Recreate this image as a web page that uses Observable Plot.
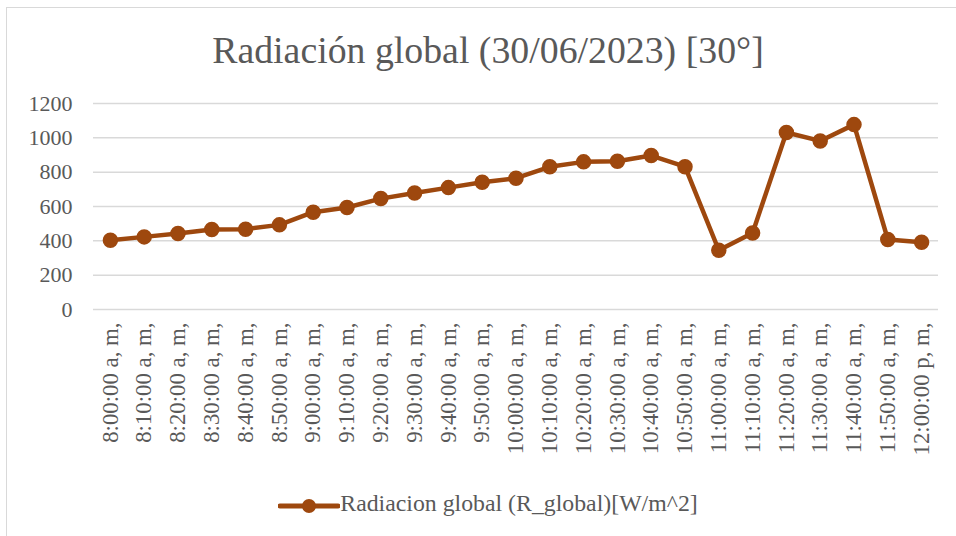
<!DOCTYPE html>
<html>
<head>
<meta charset="utf-8">
<script src="https://cdn.jsdelivr.net/npm/d3@7"></script>
<script src="https://cdn.jsdelivr.net/npm/@observablehq/plot@0.6"></script>
<style>
  html, body { margin: 0; padding: 0; background: #fff; overflow: hidden; }
  #wrap { position: relative; width: 956px; height: 536px; font-family: "Liberation Serif", "Times New Roman", serif; color: #595959; }
  #frame { position: absolute; left: 6px; top: 7px; width: 980px; height: 560px; border: 1.5px solid #d9d9d9; box-sizing: border-box; }
  #title { position: absolute; left: 0; width: 976px; top: 32px; text-align: center; font-size: 37.8px; line-height: 37px; white-space: nowrap; }
  #chart { position: absolute; left: 0; top: 85px; }
  #legend { position: absolute; left: 0; width: 976px; top: 490px; text-align: center; font-size: 23.8px; line-height: 26px; white-space: nowrap; }
  #legend svg { vertical-align: -3px; }
</style>
</head>
<body>
<div id="wrap">
  <div id="frame"></div>
  <div id="title">Radiación global (30/06/2023) [30°]</div>
  <div id="chart"></div>
  <div id="legend"></div>
</div>
<script>
const times = ["8:00:00 a, m,","8:10:00 a, m,","8:20:00 a, m,","8:30:00 a, m,","8:40:00 a, m,","8:50:00 a, m,",
  "9:00:00 a, m,","9:10:00 a, m,","9:20:00 a, m,","9:30:00 a, m,","9:40:00 a, m,","9:50:00 a, m,",
  "10:00:00 a, m,","10:10:00 a, m,","10:20:00 a, m,","10:30:00 a, m,","10:40:00 a, m,","10:50:00 a, m,",
  "11:00:00 a, m,","11:10:00 a, m,","11:20:00 a, m,","11:30:00 a, m,","11:40:00 a, m,","11:50:00 a, m,",
  "12:00:00 p, m,"];
const radiation = [404, 423, 443, 466, 468, 493, 567, 594, 646, 679, 710, 741, 765, 831, 860, 864, 897, 832,
  345, 446, 1031, 982, 1077, 408, 392];
const yTicks = [0, 200, 400, 600, 800, 1000, 1200];
const seriesName = "Radiacion global (R_global)[W/m^2]";
const lineColor = "#9E480E";

const data = times.map((t, i) => ({t, v: radiation[i]}));

const chart = Plot.plot({
  width: 956,
  height: 385,
  marginLeft: 93,
  marginRight: 18,
  marginTop: 18,
  marginBottom: 161,
  style: {fontFamily: '"Liberation Serif", "Times New Roman", serif', fontSize: "22px", color: "#595959", background: "transparent", overflow: "visible"},
  x: {type: "point", domain: times, padding: 0.5, round: false, label: null},
  y: {domain: [0, 1200], label: null},
  marks: [
    Plot.gridY(yTicks, {stroke: "#d9d9d9", strokeOpacity: 1, strokeWidth: 1.5}),
    Plot.axisY(yTicks, {tickSize: 0, tickPadding: 21, fontSize: 22, fill: "#595959", label: null, tickFormat: d => String(d)}),
    Plot.axisX(times, {tickSize: 0, tickRotate: -90, tickPadding: 13, fontSize: 22.8, fill: "#595959", label: null, textAnchor: "end", tickFormat: d => d}),
    Plot.line(data, {x: "t", y: "v", stroke: lineColor, strokeWidth: 4.5, strokeLinejoin: "round"}),
    Plot.dot(data, {x: "t", y: "v", r: 7, fill: lineColor, stroke: lineColor})
  ]
});
document.getElementById("chart").appendChild(chart);

document.getElementById("legend").innerHTML =
  `<svg width="62" height="16" viewBox="0 0 62 16"><line x1="2" y1="8" x2="60" y2="8" stroke="${lineColor}" stroke-width="5" stroke-linecap="round"/><circle cx="31" cy="8" r="7" fill="${lineColor}"/></svg>${seriesName}`;
</script>
</body>
</html>
